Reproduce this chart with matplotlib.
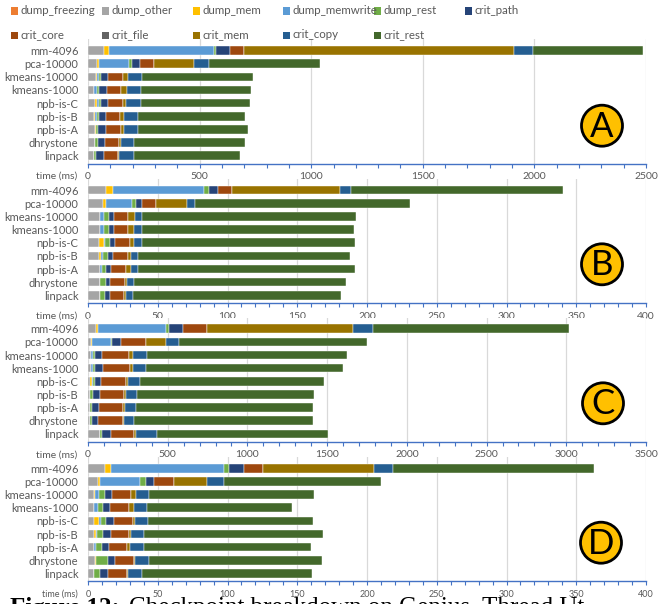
import numpy as np
import matplotlib
matplotlib.use("Agg")
import matplotlib.pyplot as plt
from matplotlib.patches import Circle, Rectangle
from matplotlib.ticker import MultipleLocator

plt.rcParams['font.family'] = ['Lato', 'DejaVu Sans']

rows = ['mm-4096', 'pca-10000', 'kmeans-10000', 'kmeans-1000', 'npb-is-C',
        'npb-is-B', 'npb-is-A', 'dhrystone', 'linpack']

parts = ['dump_freezing', 'dump_other', 'dump_mem', 'dump_memwrite', 'dump_rest',
         'crit_path', 'crit_core', 'crit_file', 'crit_mem', 'crit_copy', 'crit_rest']
colors = ['#ED7D31', '#A5A5A5', '#FFC000', '#5B9BD5', '#70AD47',
          '#264478', '#9E480E', '#636363', '#997300', '#255E91', '#43682B']

# panel A (ms)
a_dump_freezing = [0, 0, 0, 0, 0, 0, 0, 0, 0]
a_dump_other = [70, 42, 37, 28, 33, 28, 31, 31, 25]
a_dump_mem = [26, 7, 4, 0, 9, 4, 3, 0, 0]
a_dump_memwrite = [467, 136, 7, 13, 6, 7, 0, 0, 0]
a_dump_rest = [10, 12, 9, 10, 10, 9, 12, 12, 12]
a_crit_path = [61, 37, 34, 33, 33, 31, 33, 31, 33]
a_crit_core = [66, 63, 67, 64, 67, 66, 67, 67, 63]
a_crit_file = [0, 0, 0, 0, 0, 0, 0, 0, 0]
a_crit_mem = [1208, 176, 22, 25, 12, 15, 15, 6, 7]
a_crit_copy = [87, 69, 64, 66, 66, 63, 64, 61, 64]
a_crit_rest = [491, 498, 496, 490, 490, 481, 493, 494, 476]

# panel B (ms)
b_dump_freezing = [0, 0, 0, 0, 0, 0, 0, 0, 0]
b_dump_other = [13.1, 10.5, 8.3, 8.3, 8.1, 7.9, 8.3, 8.3, 8.3]
b_dump_mem = [4.5, 2.4, 0, 0, 3.1, 1.4, 0, 0, 0]
b_dump_memwrite = [65.5, 18.6, 2.9, 3.1, 1.2, 1.2, 1.4, 0, 0]
b_dump_rest = [3.6, 3.1, 4.0, 3.8, 3.6, 3.6, 3.3, 4.5, 4.0]
b_crit_path = [6.4, 3.8, 3.1, 3.1, 3.1, 3.6, 3.8, 3.1, 3.6]
b_crit_core = [10.0, 10.7, 10.7, 10.7, 11.2, 10.7, 10.7, 10.7, 10.0]
b_crit_file = [0, 0, 0, 0, 0, 0, 0, 0, 0]
b_crit_mem = [77.8, 21.7, 5.0, 4.3, 2.4, 2.6, 3.1, 1.4, 1.4]
b_crit_copy = [7.4, 6.2, 5.0, 5.2, 5.7, 5.2, 5.5, 4.8, 5.2]
b_crit_rest = [152.4, 154.0, 153.0, 152.0, 153.0, 151.6, 155.0, 152.0, 149.0]

# panel C (ms)
c_dump_freezing = [0, 0, 0, 0, 0, 0, 0, 0, 0]
c_dump_other = [48, 19, 17, 19, 15, 15, 15, 15, 75]
c_dump_mem = [17, 8, 0, 0, 13, 0, 0, 0, 0]
c_dump_memwrite = [425, 115, 15, 13, 6, 0, 0, 0, 0]
c_dump_rest = [19, 8, 13, 15, 8, 19, 10, 13, 15]
c_crit_path = [86, 59, 44, 46, 40, 40, 42, 36, 54]
c_crit_core = [153, 153, 167, 169, 157, 151, 151, 155, 142]
c_crit_file = [0, 0, 0, 0, 0, 0, 0, 0, 0]
c_crit_mem = [912, 128, 27, 21, 13, 13, 15, 4, 13]
c_crit_copy = [128, 82, 84, 79, 73, 71, 67, 67, 132]
c_crit_rest = [1228, 1176, 1255, 1236, 1155, 1111, 1113, 1119, 1075]

# panel D (ms)
d_dump_freezing = [0, 0, 0, 0, 0, 0, 0, 0, 0]
d_dump_other = [11.9, 6.9, 4.3, 4.3, 4.0, 4.3, 4.0, 4.8, 4.5]
d_dump_mem = [4.3, 1.9, 0.7, 0, 4.0, 1.4, 0, 0.7, 0]
d_dump_memwrite = [81.4, 28.8, 2.9, 2.6, 1.2, 0.5, 1.7, 0, 0]
d_dump_rest = [3.8, 4.0, 4.3, 4.0, 3.6, 4.5, 4.0, 8.6, 4.3]
d_crit_path = [10.5, 6.0, 4.8, 5.2, 5.5, 5.5, 5.2, 5.5, 5.2]
d_crit_core = [13.8, 14.0, 14.0, 13.6, 13.8, 12.9, 13.1, 13.1, 13.6]
d_crit_file = [0, 0, 0, 0, 0, 0, 0, 0, 0]
d_crit_mem = [79.0, 24.0, 3.3, 3.1, 1.4, 1.7, 2.1, 1.2, 1.2]
d_crit_copy = [13.6, 11.9, 9.3, 9.3, 9.8, 9.3, 9.8, 9.5, 9.8]
d_crit_rest = [144.1, 112.4, 118.6, 104.3, 117.9, 128.3, 120.0, 124.3, 121.9]

panels = [
    ('A', [a_dump_freezing, a_dump_other, a_dump_mem, a_dump_memwrite, a_dump_rest,
           a_crit_path, a_crit_core, a_crit_file, a_crit_mem, a_crit_copy, a_crit_rest],
     2500, 500, 100),
    ('B', [b_dump_freezing, b_dump_other, b_dump_mem, b_dump_memwrite, b_dump_rest,
           b_crit_path, b_crit_core, b_crit_file, b_crit_mem, b_crit_copy, b_crit_rest],
     400, 50, 10),
    ('C', [c_dump_freezing, c_dump_other, c_dump_mem, c_dump_memwrite, c_dump_rest,
           c_crit_path, c_crit_core, c_crit_file, c_crit_mem, c_crit_copy, c_crit_rest],
     3500, 500, 100),
    ('D', [d_dump_freezing, d_dump_other, d_dump_mem, d_dump_memwrite, d_dump_rest,
           d_crit_path, d_crit_core, d_crit_file, d_crit_mem, d_crit_copy, d_crit_rest],
     400, 50, 10),
]

W, H = 669, 604
fig = plt.figure(figsize=(W / 100, H / 100), dpi=100)

# axis line (px from top) for each panel, and badge centres
axis_y = [163.6, 303.2, 441.8, 581.4]
badge_xy = [(602, 125.7), (602, 264.3), (603, 403.3), (601, 542.7)]
step = 13.15
left, right = 88, 646
grey = '#595959'
blue = '#4472C4'

y = np.arange(len(rows))
for k, (letter, series, xmax, major, minor) in enumerate(panels):
    bot = axis_y[k]
    top = bot - 9.45 * step
    ax = fig.add_axes([left / W, 1 - bot / H, (right - left) / W, (bot - top) / H])
    start = np.zeros(len(rows))
    for vals, col in zip(series, colors):
        vals = np.array(vals, dtype=float)
        ax.barh(y, vals, left=start, height=0.65, color=col,
                edgecolor='white', linewidth=0.3, zorder=3)
        start += vals
    ax.set_ylim(8.6, -0.85)
    ax.set_xlim(0, xmax)
    ax.xaxis.set_major_locator(MultipleLocator(major))
    ax.xaxis.set_minor_locator(MultipleLocator(minor))
    ax.grid(axis='x', which='major', color='#D9D9D9', linewidth=0.9, zorder=0)
    for s in ['top', 'right', 'left']:
        ax.spines[s].set_visible(False)
    ax.spines['bottom'].set_color(blue)
    ax.spines['bottom'].set_linewidth(1.0)
    xs = 6.5 if letter == 'D' else 7.5
    ax.tick_params(axis='x', which='both', colors=blue, length=3, width=0.8,
                   labelcolor=grey, labelsize=xs, pad=3)
    ax.tick_params(axis='y', length=0, labelcolor=grey, labelsize=8, pad=7)
    ax.set_yticks(y)
    ax.set_yticklabels(rows)
    ax.annotate('time (ms)', xy=(0, 0), xycoords='axes fraction',
                xytext=(-7.5, -9.3), textcoords='offset points',
                ha='right', va='center', fontsize=xs, color=grey)
    cx, cy = badge_xy[k]
    fig.patches.append(Circle((cx / 100, (H - cy) / 100), 0.205,
                              transform=fig.dpi_scale_trans, facecolor='#FFC000',
                              edgecolor='black', linewidth=2.0, zorder=5))
    fig.text(cx / W, 1 - (cy + 1) / H, letter, ha='center', va='center',
             fontsize=25, color='black', zorder=6)

# legend, two rows of six columns
for i, (name, col) in enumerate(zip(parts, colors)):
    r, c = divmod(i, 6)
    x0 = 11 + 90.8 * c
    y0 = 11 + 24 * r
    fig.patches.append(Rectangle((x0 / W, 1 - (y0 + 3.5) / H), 7 / W, 7 / H,
                                 transform=fig.transFigure, facecolor=col,
                                 edgecolor='none'))
    fig.text((x0 + 9.5) / W, 1 - y0 / H, name, ha='left', va='center',
             fontsize=8.3, color=grey)

# caption of the page, cut by the bottom edge
cap_y = 1 - 597 / H
t1 = fig.text(10 / W, cap_y, 'Figure 12:', ha='left', va='top', fontsize=18,
              family=['Liberation Serif'], fontweight='bold')
fig.canvas.draw()
bb = t1.get_window_extent(fig.canvas.get_renderer())
fig.text((bb.x1 + 9) / W, cap_y, 'Checkpoint breakdown on Genius. Thread Ut',
         ha='left', va='top', fontsize=18, family=['Liberation Serif'])

fig.savefig('out.png', dpi=100)
